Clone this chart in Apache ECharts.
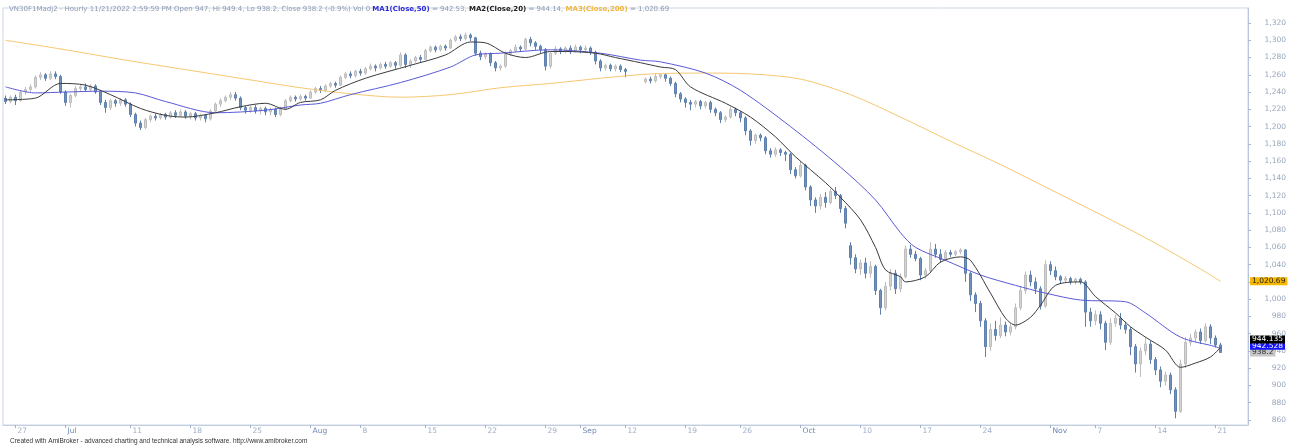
<!DOCTYPE html>
<html><head><meta charset="utf-8">
<script src="https://cdn.jsdelivr.net/npm/echarts@6/dist/echarts.min.js"></script>
<style>html,body{margin:0;padding:0;background:#fff}#c{width:1290px;height:445px}</style>
</head><body><div id="c"></div>
<script>
// ---- data ----
const barCount = 249; // hourly bar slots across the axis (incl. blank space at right)
const tickIdx = [2,12,25,37,49,61,71,84,96,108,115,124,136,147,159,171,183,195,209,218,230,242];
const tickText = ["27","Jul","11","18","25","Aug","8","15","22","29","Sep","12","19","26","Oct","10","17","24","Nov","7","14","21"];
const yTicks = [860,880,900,920,940,960,980,1000,1020,1040,1060,1080,1100,1120,1140,1160,1180,1200,1220,1240,1260,1280,1300,1320];
// [open, close, low, high]
const candles = [
[1233,1229,1226,1236],[1229,1234,1227,1236],[1234,1230,1225,1237],[1230,1240,1229,1242],[1240,1243,1237,1246],
[1243,1246,1240,1249],[1246,1257,1244,1259],[1257,1260,1254,1263],[1260,1256,1253,1262],[1256,1261,1254,1264],
[1261,1258,1255,1264],[1258,1240,1238,1260],[1240,1228,1224,1242],[1228,1236,1222,1238],[1236,1244,1234,1247],
[1244,1246,1241,1249],[1246,1243,1240,1250],[1243,1247,1241,1249],[1247,1240,1238,1249],[1240,1228,1225,1242],
[1228,1222,1216,1231],[1222,1230,1219,1232],[1230,1227,1223,1232],[1227,1231,1224,1233],[1231,1226,1223,1233],
[1226,1214,1211,1228],[1214,1204,1200,1216],[1204,1199,1196,1207],[1199,1208,1197,1210],[1208,1212,1205,1214],
[1212,1210,1207,1215],[1210,1214,1208,1216],[1214,1211,1208,1216],[1211,1216,1209,1218],[1216,1213,1210,1219],
[1213,1217,1211,1220],[1217,1212,1209,1219],[1212,1215,1208,1217],[1215,1210,1207,1217],[1210,1213,1207,1215],
[1213,1209,1205,1214],[1209,1218,1207,1220],[1218,1226,1216,1228],[1226,1230,1223,1233],[1230,1234,1228,1236],
[1234,1237,1231,1240],[1237,1233,1230,1240],[1233,1222,1219,1235],[1222,1219,1215,1224],[1219,1222,1216,1224],
[1222,1218,1215,1225],[1218,1221,1214,1223],[1221,1217,1213,1223],[1217,1220,1213,1222],[1220,1214,1211,1222],
[1214,1220,1212,1223],[1220,1230,1219,1232],[1230,1234,1228,1236],[1234,1232,1229,1236],[1232,1235,1230,1237],
[1235,1233,1230,1237],[1233,1240,1232,1242],[1240,1244,1238,1246],[1244,1242,1239,1247],[1242,1247,1240,1249],
[1247,1250,1245,1252],[1250,1248,1245,1252],[1248,1257,1247,1259],[1257,1261,1255,1263],[1261,1259,1256,1264],
[1259,1264,1257,1266],[1264,1262,1259,1267],[1262,1267,1260,1269],[1267,1270,1265,1273],[1270,1268,1264,1272],
[1268,1272,1266,1274],[1272,1270,1267,1275],[1270,1274,1268,1276],[1274,1271,1267,1276],[1271,1283,1269,1286],
[1283,1272,1268,1285],[1272,1276,1268,1278],[1276,1280,1274,1282],[1280,1278,1275,1283],[1278,1288,1277,1290],
[1288,1292,1286,1294],[1292,1289,1286,1294],[1289,1293,1287,1295],[1293,1291,1288,1295],[1291,1300,1290,1302],
[1300,1304,1298,1306],[1304,1302,1299,1307],[1302,1306,1300,1309],[1306,1303,1299,1308],[1303,1285,1282,1304],
[1285,1281,1277,1288],[1281,1284,1278,1286],[1284,1274,1270,1286],[1274,1268,1264,1276],[1268,1270,1265,1272],
[1270,1284,1268,1287],[1284,1288,1282,1290],[1288,1292,1286,1295],[1292,1290,1287,1294],[1290,1301,1288,1303],
[1301,1297,1293,1304],[1297,1293,1289,1299],[1293,1289,1285,1295],[1289,1270,1265,1291],[1270,1285,1267,1287],
[1285,1290,1283,1293],[1290,1287,1284,1292],[1287,1291,1285,1293],[1291,1288,1284,1294],[1288,1292,1286,1295],
[1292,1289,1285,1294],[1289,1291,1286,1294],[1291,1286,1283,1293],[1286,1276,1272,1288],[1276,1268,1264,1278],
[1268,1271,1265,1273],[1271,1267,1264,1273],[1267,1270,1264,1272],[1270,1266,1263,1272],[1266,1264,1257,1268],
['-','-','-','-'],['-','-','-','-'],['-','-','-','-'],
[1252,1255,1250,1257],[1255,1253,1250,1258],[1253,1258,1251,1261],[1258,1260,1255,1262],[1260,1256,1252,1262],
[1256,1250,1247,1258],[1250,1238,1234,1252],[1238,1232,1228,1240],[1232,1228,1222,1234],[1228,1226,1219,1231],
[1226,1229,1222,1231],[1229,1224,1220,1231],[1224,1228,1221,1230],[1228,1220,1216,1230],[1220,1216,1212,1222],
[1216,1208,1204,1218],[1208,1211,1205,1213],[1211,1220,1209,1223],[1220,1216,1212,1222],[1216,1210,1205,1218],
[1210,1195,1190,1212],[1195,1184,1178,1197],[1184,1190,1180,1192],[1190,1187,1183,1192],[1187,1172,1168,1189],
[1172,1168,1164,1175],[1168,1173,1165,1176],[1173,1170,1166,1175],[1170,1168,1160,1172],[1168,1150,1145,1170],
[1150,1143,1140,1153],[1143,1155,1141,1160],[1155,1130,1126,1157],[1130,1115,1108,1132],[1115,1108,1100,1118],
[1108,1118,1104,1122],[1118,1112,1106,1124],[1112,1125,1110,1128],[1125,1120,1116,1130],[1120,1105,1100,1122],
[1105,1088,1082,1108],[1062,1048,1040,1066],[1048,1035,1030,1052],[1035,1042,1028,1046],[1042,1030,1024,1048],
[1030,1038,1025,1044],[1038,1010,1005,1040],[1010,990,982,1012],[990,1015,987,1020],[1015,1030,1010,1035],
[1030,1012,1006,1034],[1012,1026,1008,1030],[1026,1058,1024,1062],[1058,1052,1048,1063],[1052,1047,1044,1056],
[1047,1028,1022,1049],[1028,1033,1024,1036],[1033,1058,1030,1066],[1058,1052,1048,1064],[1052,1046,1042,1058],
[1046,1054,1044,1057],[1054,1052,1049,1057],[1052,1055,1050,1057],[1055,1057,1052,1059],[1057,1030,1020,1058],
[1030,1005,998,1032],[1005,995,985,1008],[995,975,968,998],[975,945,933,978],[945,965,940,972],
[965,958,952,975],[958,970,955,979],[970,962,957,974],[962,968,958,972],[968,990,965,995],
[990,1010,987,1015],[1010,1028,1006,1032],[1028,1020,1015,1033],[1020,1012,1006,1025],[1012,992,988,1015],
[992,1040,990,1045],[1040,1033,1028,1044],[1033,1026,1022,1038],[1026,1022,1018,1028],[1022,1024,1019,1027],
[1024,1020,1017,1026],[1020,1023,1017,1025],[1023,1020,1017,1025],[1020,985,968,1022],[985,975,968,990],
[975,982,970,987],[982,972,965,986],[972,950,941,975],[950,972,947,978],[972,978,968,982],
[978,970,965,984],[970,965,960,974],[965,945,935,968],[945,925,915,948],[925,940,910,944],
[940,948,935,956],[948,930,925,952],[930,918,912,933],[918,905,898,922],[905,912,900,916],
[912,895,890,915],[895,870,862,898],[870,925,868,930],[925,950,920,956],[950,955,946,960],
[955,962,950,965],[962,952,948,966],[952,968,950,972],[968,955,948,971],[955,947,944,958],
[947,938.2,938.2,949.4]
];
// moving averages read at points along the curves: [bar index, value]
const ma50 = [[0,1246],[6,1239],[12,1240],[19,1241],[26,1239],[32,1229],[42,1216],[52,1219],[59,1225],[63,1227],[69,1237],[79,1251],[89,1269],[94,1283],[99,1285],[109,1289],[119,1285],[127,1277],[131,1275],[140,1262],[147,1242],[157,1200],[167,1153],[174,1115],[179,1077],[182,1060],[188,1045],[195,1028],[202,1016],[208,1007],[215,999],[224,997],[228,984],[235,956],[242,945],[243,942.528]];
const ma20 = [[0,1231],[6,1233],[11,1250],[16,1248],[21,1237],[27,1221],[32,1213],[36,1211],[42,1216],[47,1223],[52,1227],[56,1220],[59,1228],[63,1231],[66,1242],[72,1256],[81,1271],[88,1283],[93,1298],[96,1297],[100,1285],[104,1280],[109,1287],[112,1287],[118,1285],[122,1280],[127,1274],[131,1269],[134,1266],[137,1246],[144,1227],[149,1211],[154,1188],[158,1165],[164,1135],[167,1118],[171,1092],[174,1060],[176,1034],[179,1026],[180,1020],[184,1026],[187,1043],[191,1049],[193,1045],[197,1007],[200,978],[202,970],[205,979],[207,993],[210,1016],[215,1020],[218,1003],[222,984],[225,968],[228,956],[232,941],[235,921],[238,926],[241,933],[243,944.135]];
const ma200 = [[0,1300],[12,1289],[24,1277],[36,1266],[48,1255],[59,1245],[69,1238],[79,1234],[89,1237],[99,1245],[109,1250],[119,1256],[129,1261],[139,1262],[149,1261],[159,1255],[169,1237],[179,1211],[189,1183],[199,1156],[209,1127],[219,1098],[229,1068],[239,1035],[243,1020.69]];
const lastClose = 938.2, lastMa20 = 944.135, lastMa50 = 942.528, lastMa200 = 1020.69;

// ---- chart ----
const categories = Array.from({length: barCount}, (_, i) => 'b' + i);
const tickSet = new Set(tickIdx);
const labelOf = {}; tickIdx.forEach((t, k) => labelOf[t] = tickText[k]);
const months = new Set(["Jul","Aug","Sep","Oct","Nov"]);
const fmtNum = v => v >= 1000 ? Math.floor(v/1000) + ',' + String(v % 1000).padStart(3, '0') : String(v);

function tag(value, text, bg, fg, shift) {
  return {
    symbol: 'none', silent: true, animation: false,
    lineStyle: { color: 'rgba(255,255,255,0)', width: 1, type: 'solid' },
    data: [{ yAxis: value }],
    label: {
      show: true, position: 'end', distance: 2, opacity: 1,
      formatter: shift ? '{t|' + text + '}\n{s| }' : '{t|' + text + '}',
      rich: {
        t: { backgroundColor: bg, color: fg, padding: [0, 2, 0, 2], fontSize: 7.5, lineHeight: 7, fontFamily: 'DejaVu Sans' },
        s: { lineHeight: shift, fontSize: 1 }
      }
    }
  };
}

const chart = echarts.init(document.getElementById('c'), null, { renderer: 'canvas' });
chart.setOption({
  animation: false,
  backgroundColor: '#ffffff',
  title: [{
    left: 4, top: 1,
    text: '{g|VN30F1Madj2 - Hourly 11/21/2022 2:59:59 PM Open 947, Hi 949.4, Lo 938.2, Close 938.2 (-0.9%) Vol 0 }{b|MA1(Close,50)}{g| = 942.53, }{k|MA2(Close,20)}{g| = 944.14, }{o|MA3(Close,200)}{g| = 1,020.69}',
    textStyle: {
      fontSize: 7, fontFamily: 'DejaVu Sans', fontWeight: 'normal',
      rich: {
        g: { color: '#8d9bb3', fontSize: 7, fontWeight: 'normal', fontFamily: 'DejaVu Sans' },
        b: { color: '#2b2bd8', fontSize: 7, fontWeight: 'bold', fontFamily: 'DejaVu Sans' },
        k: { color: '#222222', fontSize: 7, fontWeight: 'bold', fontFamily: 'DejaVu Sans' },
        o: { color: '#f2b640', fontSize: 7, fontWeight: 'bold', fontFamily: 'DejaVu Sans' }
      }
    }
  }, {
    left: 5, top: 433,
    text: 'Created with AmiBroker - advanced charting and technical analysis software. http://www.amibroker.com',
    textStyle: { fontSize: 6.5, fontWeight: 'normal', color: '#333333', fontFamily: 'Liberation Sans' }
  }],
  grid: { left: 3, top: 8, width: 1245, height: 417, show: true, borderColor: '#cdd6e4', borderWidth: 1, backgroundColor: '#ffffff' },
  xAxis: {
    type: 'category', data: categories, boundaryGap: true,
    axisLine: { show: true, lineStyle: { color: '#c2cde0', width: 1 } },
    axisTick: { show: true, alignWithLabel: true, length: 3, interval: (i) => tickSet.has(i), lineStyle: { color: '#9fb0cc' } },
    axisLabel: {
      show: true, interval: (i) => tickSet.has(i), align: 'left', margin: 2,
      formatter: (v, i) => { const t = labelOf[i] || ''; return months.has(t) ? '{m|' + t + '}' : '{d|' + t + '}'; },
      rich: {
        d: { color: '#9eaec8', fontSize: 7.5, fontFamily: 'DejaVu Sans', padding: [0, 0, 0, 2] },
        m: { color: '#6f86b6', fontSize: 7.5, fontFamily: 'DejaVu Sans', padding: [0, 0, 0, 2] }
      }
    },
    splitLine: { show: false }
  },
  yAxis: {
    type: 'value', position: 'right', min: 854.2, max: 1337.4, scale: true,
    axisLine: { show: true, lineStyle: { color: '#b9c6dc' } },
    axisTick: { show: true, length: 3, customValues: yTicks, lineStyle: { color: '#a9b7cf' } },
    axisLabel: { show: true, customValues: yTicks, formatter: fmtNum, align: 'right', margin: 38, color: '#98a6bc', fontSize: 7.5, fontFamily: 'DejaVu Sans' },
    splitLine: { show: false }
  },
  series: [
    {
      type: 'candlestick', data: candles, barWidth: 2, z: 6, clip: false,
      itemStyle: { color: '#d4d4d4', color0: '#7190ba', borderColor: '#bdbdbd', borderColor0: '#5f80ad', borderWidth: 1 },
      markLine: tag(lastClose, '938.2', '#c6c6c6', '#333333', 0)
    },
    {
      type: 'line', name: 'MA200', data: ma200, showSymbol: false, smooth: 0.3, z: 7, clip: false,
      lineStyle: { color: '#f6c870', width: 1 },
      markLine: tag(lastMa200, '1,020.69', '#f6b800', '#222222', 0)
    },
    {
      type: 'line', name: 'MA50', data: ma50, showSymbol: false, smooth: 0.3, z: 8, clip: false,
      lineStyle: { color: '#5a5ad8', width: 1 },
      markLine: tag(lastMa50, '942.528', '#1414ff', '#ffffff', 6)
    },
    {
      type: 'line', name: 'MA20', data: ma20, showSymbol: false, smooth: 0.3, z: 9, clip: false,
      lineStyle: { color: '#3a3a3a', width: 1 },
      markLine: tag(lastMa20, '944.135', '#000000', '#ffffff', 16)
    }
  ]
});
</script>
</body></html>
